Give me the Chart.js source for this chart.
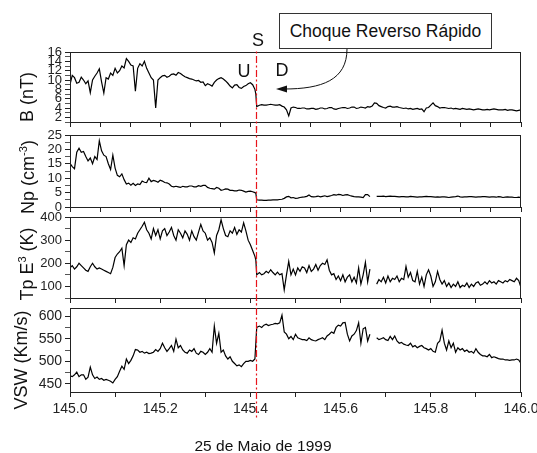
<!DOCTYPE html>
<html>
<head>
<meta charset="utf-8">
<script src="https://cdn.jsdelivr.net/npm/chart.js@4/dist/chart.umd.min.js"></script>
<style>
  body { margin: 0; background: #fff; font-family: "Liberation Sans", Arial, sans-serif; color: #111; }
  #wrap { position: relative; width: 537px; height: 453px; overflow: hidden; }
  canvas { position: absolute; left: 0; }
  .lbl { position: absolute; white-space: nowrap; transform: translate(-50%, -50%); line-height: 1; }
  .ytitle { position: absolute; white-space: nowrap; font-size: 18px; line-height: 1;
            transform: translate(-50%, -50%) rotate(-90deg); }
  .ytitle sup { font-size: 11px; vertical-align: 7px; }
  svg { position: absolute; left: 0; top: 0; }
</style>
</head>
<body>
<div id="wrap">
  <canvas id="chartB" width="537" height="130" style="top:0px"></canvas>
  <canvas id="chartNp" width="537" height="87" style="top:126px"></canvas>
  <canvas id="chartTp" width="537" height="95" style="top:209px"></canvas>
  <canvas id="chartV" width="537" height="153" style="top:300px"></canvas>

  <div class="ytitle" style="left:27px; top:97px">B (nT)</div>
  <div class="ytitle" style="left:27px; top:177px">Np (cm<sup>-3</sup>)</div>
  <div class="ytitle" style="left:26px; top:264px">Tp E<sup>3</sup> (K)</div>
  <div class="ytitle" style="left:21px; top:360px">VSW (Km/s)</div>

  <div class="lbl" style="left:258px; top:40px; font-size:18px">S</div>
  <div class="lbl" style="left:244px; top:71px; font-size:18px">U</div>
  <div class="lbl" style="left:282px; top:70px; font-size:18px">D</div>
  <div class="lbl" style="left:263px; top:446px; font-size:15.5px">25 de Maio de 1999</div>

  <svg width="537" height="453">
    <rect x="279.5" y="13.5" width="212" height="35" fill="#fff" stroke="#333" stroke-width="1"/>
    <text x="385.5" y="37" font-size="17.5" text-anchor="middle" fill="#111"
          font-family="Liberation Sans, Arial, sans-serif">Choque Reverso Rápido</text>
    <path d="M347,49 C347,80 322,89 284,89" fill="none" stroke="#111" stroke-width="1"/>
    <polygon points="276,89 287,85.5 287,92.5" fill="#111"/>
  </svg>
</div>

<script>
// time axis (day of year 1999)
const times = [
  145.000, 145.005, 145.010, 145.015, 145.020, 145.025, 145.030, 145.035, 145.040, 145.045,
  145.050, 145.055, 145.060, 145.065, 145.070, 145.075, 145.080, 145.085, 145.090, 145.095,
  145.100, 145.105, 145.110, 145.115, 145.120, 145.125, 145.130, 145.135, 145.140, 145.145,
  145.150, 145.155, 145.160, 145.165, 145.170, 145.175, 145.180, 145.185, 145.190, 145.195,
  145.200, 145.205, 145.210, 145.215, 145.220, 145.225, 145.230, 145.235, 145.240, 145.245,
  145.250, 145.255, 145.260, 145.265, 145.270, 145.275, 145.280, 145.285, 145.290, 145.295,
  145.300, 145.305, 145.310, 145.315, 145.320, 145.325, 145.330, 145.335, 145.340, 145.345,
  145.350, 145.355, 145.360, 145.365, 145.370, 145.375, 145.380, 145.385, 145.390, 145.395,
  145.400, 145.405, 145.410, 145.412, 145.414,
  145.420, 145.425, 145.430, 145.435, 145.440, 145.445, 145.450, 145.455, 145.460, 145.465,
  145.470, 145.475, 145.480, 145.485, 145.490, 145.495, 145.500, 145.505, 145.510, 145.515,
  145.520, 145.525, 145.530, 145.535, 145.540, 145.545, 145.550, 145.555, 145.560, 145.565,
  145.570, 145.575, 145.580, 145.585, 145.590, 145.595, 145.600, 145.605, 145.610, 145.615,
  145.620, 145.625, 145.630, 145.635, 145.640, 145.645, 145.650, 145.655, 145.660, 145.665,
  145.670, 145.675, 145.680, 145.685, 145.690, 145.695, 145.700, 145.705, 145.710, 145.715,
  145.720, 145.725, 145.730, 145.735, 145.740, 145.745, 145.750, 145.755, 145.760, 145.765,
  145.770, 145.775, 145.780, 145.785, 145.790, 145.795, 145.800, 145.805, 145.810, 145.815,
  145.820, 145.825, 145.830, 145.835, 145.840, 145.845, 145.850, 145.855, 145.860, 145.865,
  145.870, 145.875, 145.880, 145.885, 145.890, 145.895, 145.900, 145.905, 145.910, 145.915,
  145.920, 145.925, 145.930, 145.935, 145.940, 145.945, 145.950, 145.955, 145.960, 145.965,
  145.970, 145.975, 145.980, 145.985, 145.990, 145.995, 146.000
];

const bField = [
  9.0, 11.0, 10.5, 9.3, 9.5, 10.6, 10.0, 9.2, 9.8, 7.3,
  10.0, 10.8, 11.5, 12.4, 9.6, 7.2, 10.5, 10.2, 11.5, 11.0,
  12.5, 11.5, 12.0, 13.0, 12.6, 14.6, 14.0, 13.2, 13.0, 7.6,
  12.5, 13.5, 13.0, 14.0, 12.5, 11.5, 10.5, 10.0, 4.0, 10.0,
  10.5, 10.9, 11.0, 10.6, 10.8, 11.2, 11.3, 11.0, 11.6, 11.4,
  11.0, 10.7, 10.5, 10.3, 10.2, 10.0, 9.8, 9.9, 9.5, 9.6,
  8.8, 9.2, 9.0, 8.7, 9.5, 10.0, 10.3, 10.5, 10.2, 9.8,
  9.3, 8.7, 8.3, 8.9, 9.0, 8.4, 8.2, 8.6, 8.8, 9.2,
  9.4, 9.0, 8.0, 7.0, 4.3,
  4.6, 4.7, 4.6, 4.6, 4.7, 4.8, 4.7, 4.6, 4.6, 4.7,
  4.4, 4.2, 3.6, 2.3, 4.0, 4.2, 4.1, 3.9, 3.9, 4.0,
  4.0, 3.8, 3.8, 3.9, 3.9, 3.7, 3.8, 4.0, 4.0, 3.8,
  3.9, 4.1, 4.1, 3.8, 3.7, 3.9, 4.0, 4.1, 4.1, 3.9,
  4.0, 4.2, 4.2, 3.9, 4.0, 4.2, 4.1, 4.0, 4.3, 4.2,
  4.4, 5.1, 5.0, 4.5, 4.3, 4.1, 4.0, 4.3, 4.4, 4.2,
  4.2, 4.3, 4.1, 4.0, 3.9, 4.0, 3.8, 3.9, 3.7, 3.8,
  3.9, 3.7, 3.8, 3.2, 4.0, 4.1, 4.6, 5.1, 4.5, 4.3,
  4.0, 4.1, 4.1, 4.0, 3.9, 4.0, 3.8, 3.9, 3.8, 3.7,
  3.9, 3.8, 3.7, 3.8, 3.7, 3.6, 3.7, 3.8, 3.7, 3.6,
  3.6, 3.7, 3.6, 3.7, 3.8, 3.7, 3.6, 3.6, 3.6, 3.7,
  3.5, 3.6, 3.6, 3.5, 3.4, 3.5, 3.6
];

const density = [
  15.2, 14.0, 13.3, 19.0, 20.4, 19.0, 19.3, 17.5, 16.0, 17.0,
  15.0, 17.5, 16.5, 23.0, 19.5, 18.0, 17.5, 15.0, 13.0, 18.0,
  13.5, 11.0, 10.5, 11.5, 9.5, 8.0, 8.3, 7.6, 8.2, 7.5,
  8.0, 7.8, 9.0, 8.6, 8.5, 10.0, 8.8, 9.2, 9.0, 8.6,
  9.3, 9.0, 8.5, 8.4, 8.0, 7.2, 7.0, 7.2, 7.0, 6.8,
  7.2, 7.0, 7.0, 7.3, 7.3, 7.0, 7.0, 7.4, 7.2, 7.5,
  7.5, 6.8, 6.5, 6.4, 6.2, 6.8, 6.5, 5.8, 6.0, 6.3,
  6.2, 5.8, 5.8, 5.6, 5.6, 5.9, 5.8, 5.5, 5.2, 5.4,
  5.5, 5.3, 5.0, 4.8, 2.5,
  2.4, 2.4, 2.3, 2.3, 2.4, 2.4, 2.5, 2.5, 2.5, 2.6,
  2.7, 3.0, 3.5, 3.7, 3.2, 3.3, 3.0, 3.1, 3.3, 3.4,
  3.5, 3.7, 4.2, 3.6, 3.5, 3.6, 3.8, 3.5, 3.7, 3.9,
  3.6, 3.8, 4.0, 4.3, 4.1, 4.4, 4.3, 4.0, 4.2, 4.3,
  4.0, 3.8, 3.6, 3.5, 3.5, 3.4, 3.3, 4.3, 4.3, 3.6,
  null, null, 3.7, 3.7, 3.7, 3.8, 3.6, 3.7, 3.8, 3.7,
  3.7, 3.6, 3.5, 3.6, 3.6, 3.5, 3.5, 3.7, 3.6, 3.5,
  3.4, 3.5, 3.5, 3.6, 3.7, 3.6, 3.6, 3.5, 3.4, 3.5,
  3.4, 3.5, 3.5, 3.4, 3.3, 3.4, 3.5, 3.6, 3.8, 3.5,
  3.4, 3.5, 3.5, 3.6, 3.6, 3.5, 3.4, 3.5, 3.5, 3.6,
  3.6, 3.5, 3.4, 3.5, 3.5, 3.4, 3.6, 3.5, 3.3, 3.4,
  3.5, 3.4, 3.4, 3.3, 3.3, 3.4, 3.3
];

const temperature = [
  180, 190, 175, 185, 200, 190, 180, 170, 165, 185,
  200, 185, 175, 180, 175, 170, 165, 160, 155, 182,
  225, 240, 250, 265, 190, 280, 300, 290, 310, 305,
  330, 345, 360, 377, 345, 330, 305, 350, 320, 345,
  305, 340, 350, 320, 335, 355, 320, 300, 345, 330,
  310, 340, 325, 300, 340, 315, 300, 335, 368, 340,
  330, 300, 310, 290, 245, 320, 345, 388, 350, 320,
  315, 340, 330, 355, 325, 345, 335, 375, 340, 300,
  280, 255, 230, 215, 150,
  160, 150, 155, 165, 158, 172, 160, 150, 162, 150,
  155, 85, 150, 208, 150, 175, 150, 180, 165, 185,
  180, 160, 190, 165, 175, 195, 170, 190, 200, 195,
  215, 170, 150, 155, 130, 145, 125, 150, 120, 140,
  150, 120, 140, 115, 180, 110, 150, 204, 120, 175,
  null, null, 110, 130, 120, 140, 115, 145, 120, 135,
  130, 145, 120, 135, 130, 186, 140, 160, 125, 120,
  165, 110, 140, 100, 150, 172, 145, 100, 120, 165,
  130, 110, 125, 100, 115, 95, 110, 100, 120, 95,
  105, 100, 115, 95, 110, 100, 115, 120, 105, 110,
  120, 110, 125, 115, 120, 110, 125, 120, 115, 125,
  120, 130, 125, 120, 135, 125, 95
];

const speed = [
  468, 466, 470, 476, 466, 470, 470, 460, 465, 487,
  470, 462, 465, 460, 462, 458, 460, 458, 456, 452,
  460, 466, 478, 489, 482, 505, 495, 502, 512, 526,
  525, 520, 522, 518, 520, 517, 518, 520, 526, 522,
  528, 540, 530, 522, 528, 535, 522, 549, 530, 535,
  525, 520, 518, 525, 522, 528, 518, 515, 522, 520,
  515, 520, 528, 520, 578, 540, 562, 520, 525, 512,
  505, 510, 500, 495, 490, 492, 488, 495, 500, 500,
  502, 500, 505, 540, 575,
  578, 575, 580, 582, 579, 581, 582, 584, 583, 585,
  602, 565, 560, 550, 555, 548, 560, 552, 550, 548,
  548, 546, 552, 548, 546, 545, 548, 550, 552, 548,
  556, 560, 565, 562, 575, 580, 578, 585, 586, 560,
  545, 556, 560, 568, 585, 540, 572, 575, 545, 560,
  null, null, 552, 548, 550, 552, 548, 546, 555, 548,
  556, 545, 540, 542, 538, 536, 535, 540, 532, 535,
  530, 533, 535, 530, 528, 525, 528, 522, 520, 540,
  545, 569, 540, 525, 545, 530, 540, 520, 530, 525,
  528, 522, 525, 520, 522, 518, 528, 520, 515, 512,
  512, 510, 515, 508, 510, 508, 506, 505, 505, 503,
  503, 502, 503, 503, 505, 503, 495
];

const shockTime = 145.413;

// tick positions and labels
const xTicksThird = [145.0, 145.0667, 145.1333, 145.2, 145.2667, 145.3333, 145.4, 145.4667,
                     145.5333, 145.6, 145.6667, 145.7333, 145.8, 145.8667, 145.9333, 146.0];
const xTicksTenth = [145.0, 145.1, 145.2, 145.3, 145.4, 145.5, 145.6, 145.7, 145.8, 145.9, 146.0];
const xLabels = [145.0, 145.2, 145.4, 145.6, 145.8, 146.0];

const bTicks = [1, 2, 3, 4, 5, 6, 7, 8, 9, 10, 11, 12, 13, 14, 15, 16];
const bLabels = [2, 4, 6, 8, 10, 12, 14, 16];
const npTicks = [0, 2.5, 5, 7.5, 10, 12.5, 15, 17.5, 20, 22.5, 25];
const npLabels = [0, 5, 10, 15, 20, 25];
const tpTicks = [50, 100, 150, 200, 250, 300, 350, 400];
const tpLabels = [100, 200, 300, 400];
const vTicks = [450, 475, 500, 525, 550, 575, 600];
const vLabels = [450, 500, 550, 600];

// box around each panel
const frame = {
    id: 'frame',
    afterDraw(chart) {
        const a = chart.chartArea;
        const ctx = chart.ctx;
        ctx.save();
        ctx.strokeStyle = '#222';
        ctx.lineWidth = 1;
        ctx.strokeRect(Math.round(a.left) + 0.5, Math.round(a.top) + 0.5,
                       Math.round(a.right - a.left) - 1, Math.round(a.bottom - a.top));
        ctx.restore();
    }
};

// red dash-dot line at the shock
const shockLine = {
    id: 'shockLine',
    afterDraw(chart, args, opts) {
        const ctx = chart.ctx;
        const x = Math.round(chart.scales.x.getPixelForValue(shockTime)) + 0.5;
        ctx.save();
        ctx.strokeStyle = '#e8141c';
        ctx.lineWidth = 1.2;
        ctx.setLineDash([7, 2.5, 2, 2.5]);
        ctx.lineDashOffset = opts.pageTop + opts.from;
        ctx.beginPath();
        ctx.moveTo(x, opts.from);
        ctx.lineTo(x, opts.to);
        ctx.stroke();
        ctx.restore();
    }
};

function near(list, v) {
    return list.some(l => Math.abs(l - v) < 1e-6);
}

function drawPanel(canvasId, p) {
    const ctx = document.getElementById(canvasId).getContext('2d');
    const axisColor = '#222';

    new Chart(ctx, {
        type: 'line',
        data: {
            datasets: [{
                data: times.map((t, i) => ({ x: t, y: p.values[i] })),
                borderColor: '#000',
                borderWidth: 1.2,
                pointRadius: 0,
                tension: 0,
                spanGaps: false
            }]
        },
        options: {
            responsive: false,
            animation: false,
            events: [],
            layout: { padding: { left: 0, right: 16, top: p.padTop, bottom: 0 } },
            plugins: {
                legend: { display: false },
                tooltip: { enabled: false },
                shockLine: { pageTop: p.pageTop, from: p.redFrom, to: p.redTo }
            },
            scales: {
                x: {
                    type: 'linear',
                    min: 145,
                    max: 146,
                    afterBuildTicks: s => { s.ticks = p.xTicks.map(v => ({ value: v })); },
                    afterFit: s => { s.height = p.xH; s.paddingLeft = 0; s.paddingRight = 0; },
                    grid: { drawOnChartArea: false, tickLength: 5, color: axisColor },
                    border: { color: axisColor },
                    ticks: {
                        autoSkip: false,
                        maxRotation: 0,
                        padding: 4,
                        color: '#222',
                        font: { family: 'Liberation Sans', size: 14 },
                        callback: v => (p.showX && near(xLabels, v)) ? v.toFixed(1) : ''
                    }
                },
                y: {
                    min: p.yMin,
                    max: p.yMax,
                    afterBuildTicks: s => { s.ticks = p.yTicks.map(v => ({ value: v })); },
                    afterFit: s => { s.width = 70; s.paddingTop = 0; s.paddingBottom = 0; },
                    grid: {
                        drawOnChartArea: false,
                        tickLength: 5,
                        color: axisColor,
                        tickColor: c => near(p.yLabels, c.tick.value) ? axisColor : '#555'
                    },
                    border: { color: axisColor },
                    ticks: {
                        autoSkip: false,
                        padding: 3,
                        color: '#222',
                        font: { family: 'Liberation Sans', size: p.fontSize },
                        callback: v => near(p.yLabels, v) ? String(v) : ''
                    }
                }
            }
        },
        plugins: [frame, shockLine]
    });
}

drawPanel('chartB', {
    values: bField, yMin: 1, yMax: 16, yTicks: bTicks, yLabels: bLabels,
    xTicks: xTicksThird, showX: false, padTop: 52, xH: 8, fontSize: 13,
    pageTop: 0, redFrom: 50, redTo: 130
});
drawPanel('chartNp', {
    values: density, yMin: 0, yMax: 25, yTicks: npTicks, yLabels: npLabels,
    xTicks: xTicksThird, showX: false, padTop: 9, xH: 6, fontSize: 13,
    pageTop: 126, redFrom: 0, redTo: 87
});
drawPanel('chartTp', {
    values: temperature, yMin: 50, yMax: 400, yTicks: tpTicks, yLabels: tpLabels,
    xTicks: xTicksTenth, showX: false, padTop: 8, xH: 6, fontSize: 13,
    pageTop: 209, redFrom: 0, redTo: 95
});
drawPanel('chartV', {
    values: speed, yMin: 432, yMax: 618, yTicks: vTicks, yLabels: vLabels,
    xTicks: xTicksTenth, showX: true, padTop: 8, xH: 61, fontSize: 14,
    pageTop: 300, redFrom: 0, redTo: 118
});
</script>
</body>
</html>
